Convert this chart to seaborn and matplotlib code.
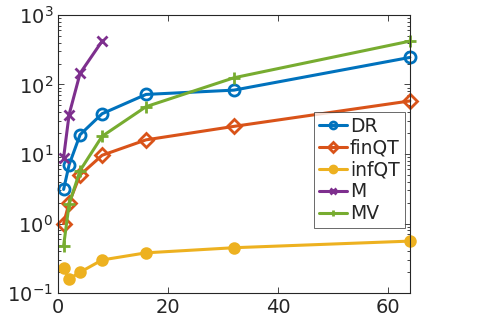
import numpy as np
import pandas as pd
import matplotlib
matplotlib.use("Agg")
import matplotlib.pyplot as plt
import seaborn as sns

# data
x_all = [1, 2, 4, 8, 16, 32, 64]
x_m = [1, 2, 4, 8]
dr = [3.1, 7.0, 19, 38, 72, 83, 245]
finqt = [1.0, 2.0, 5.0, 9.6, 16, 25, 58]
infqt = [0.23, 0.16, 0.20, 0.30, 0.38, 0.45, 0.56]
m_vals = [8.9, 37, 145, 420]
mv = [0.48, 1.9, 5.8, 18, 48, 125, 420]

sns.set_theme(style="ticks")
plt.rcParams["font.family"] = ["DejaVu Sans"]

fig, ax = plt.subplots(figsize=(5.01, 3.25), dpi=100)
fig.subplots_adjust(left=0.116, right=0.818, top=0.954, bottom=0.098)

# name, x, y, colour, marker, face, size
series = [
    ("DR", x_all, dr, "#0072BD", "o", "none", 8),
    ("finQT", x_all, finqt, "#D95319", "D", "none", 7.5),
    ("infQT", x_all, infqt, "#EDB120", "o", "#EDB120", 7),
    ("M", x_m, m_vals, "#7E2F8E", "x", "#7E2F8E", 7),
    ("MV", x_all, mv, "#77AC30", "+", "#77AC30", 8),
]
for name, xs, ys, col, mk, fc, ms in series:
    sns.lineplot(x=xs, y=ys, ax=ax, color=col, marker=mk, markersize=ms,
                 markerfacecolor=fc, markeredgecolor=col, markeredgewidth=2,
                 linewidth=2.2, label=name, clip_on=False)

ax.set_yscale("log")
ax.set_xlim(0, 64)
ax.set_ylim(0.1, 1000)
ax.set_xticks([0, 20, 40, 60])
ax.tick_params(axis="both", which="both", direction="in", top=True, right=True,
               labelsize=14, colors="#262626", width=0.6)
ax.tick_params(which="major", length=4)
ax.tick_params(which="minor", length=2)
for sp in ax.spines.values():
    sp.set_color("#262626")
    sp.set_linewidth(0.8)

leg = ax.legend(loc="lower right", bbox_to_anchor=(0.985, 0.235), fontsize=13.5,
                frameon=True, fancybox=False, edgecolor="#262626",
                handlelength=1.5, handletextpad=0.15, borderpad=0.25,
                labelspacing=0.15, borderaxespad=0)
leg.get_frame().set_linewidth(0.6)
for h in leg.legend_handles:
    h.set_markersize(5)

fig.savefig("out.png", dpi=100, facecolor="white")
